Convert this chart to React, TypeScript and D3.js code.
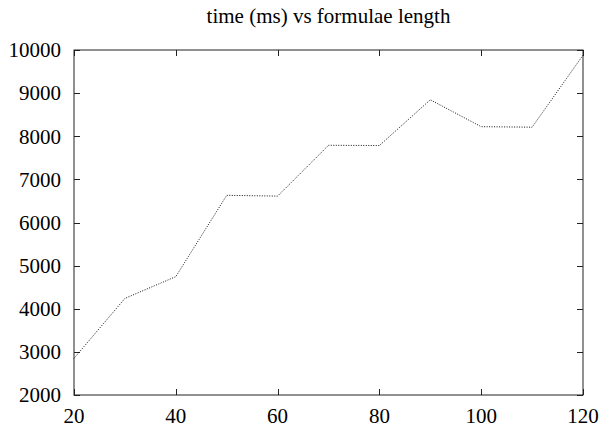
import React, { useEffect, useRef } from 'react';
import * as d3 from 'd3';

// formulae length vs time (ms)
const lengths = [20, 30, 40, 50, 60, 70, 80, 90, 100, 110, 120];
const timesMs = [2850, 4240, 4745, 6630, 6612, 7790, 7785, 8845, 8222, 8210, 9880];
const xTicks = [20, 40, 60, 80, 100, 120];
const yTicks = [2000, 3000, 4000, 5000, 6000, 7000, 8000, 9000, 10000];
const title = 'time (ms) vs formulae length';

const W = 602;
const H = 432;

const App = () => {
  const svgRef = useRef<SVGSVGElement>(null);

  useEffect(() => {
    const svg = d3.select(svgRef.current);
    svg.selectAll('*').remove();

    const margin = { top: 50, right: 19, bottom: 37, left: 74 };
    const x = d3.scaleLinear().domain([20, 120]).range([margin.left, W - margin.right]);
    const y = d3.scaleLinear().domain([2000, 10000]).range([H - margin.bottom, margin.top]);
    const font = '"Liberation Serif", "DejaVu Serif", serif';
    const tickLen = 6;
    const axisColor = '#222';

    // frame
    svg.append('rect')
      .attr('x', x(20))
      .attr('y', y(10000))
      .attr('width', x(120) - x(20))
      .attr('height', y(2000) - y(10000))
      .attr('fill', 'none')
      .attr('stroke', axisColor)
      .attr('stroke-width', 1);

    // y ticks, mirrored on the right
    yTicks.forEach(t => {
      const yy = Math.round(y(t)) + 0.5;
      svg.append('line')
        .attr('x1', x(20)).attr('x2', x(20) + tickLen)
        .attr('y1', yy).attr('y2', yy)
        .attr('stroke', axisColor);
      svg.append('line')
        .attr('x1', x(120)).attr('x2', x(120) - tickLen)
        .attr('y1', yy).attr('y2', yy)
        .attr('stroke', axisColor);
      svg.append('text')
        .attr('x', x(20) - 13)
        .attr('y', y(t))
        .attr('dy', '0.35em')
        .attr('text-anchor', 'end')
        .attr('font-family', font)
        .attr('font-size', 21)
        .attr('fill', '#000')
        .text(t);
    });

    // x ticks, mirrored on top
    xTicks.forEach(t => {
      const xx = Math.round(x(t)) + 0.5;
      svg.append('line')
        .attr('x1', xx).attr('x2', xx)
        .attr('y1', y(2000)).attr('y2', y(2000) - tickLen)
        .attr('stroke', axisColor);
      svg.append('line')
        .attr('x1', xx).attr('x2', xx)
        .attr('y1', y(10000)).attr('y2', y(10000) + tickLen)
        .attr('stroke', axisColor);
      svg.append('text')
        .attr('x', x(t))
        .attr('y', y(2000) + 28)
        .attr('text-anchor', 'middle')
        .attr('font-family', font)
        .attr('font-size', 21)
        .attr('fill', '#000')
        .text(t);
    });

    // title
    svg.append('text')
      .attr('x', (x(20) + x(120)) / 2)
      .attr('y', 23)
      .attr('text-anchor', 'middle')
      .attr('font-family', font)
      .attr('font-size', 21)
      .attr('fill', '#000')
      .text(title);

    // dotted series line
    const line = d3.line<number>()
      .x((d, i) => x(lengths[i]))
      .y(d => y(d));

    svg.append('path')
      .datum(timesMs)
      .attr('d', line)
      .attr('fill', 'none')
      .attr('stroke', '#111')
      .attr('stroke-width', 1)
      .attr('stroke-dasharray', '1,1.5');
  }, []);

  return (
    <div style={{ position: 'fixed', left: 0, top: 0, width: W, height: H, background: '#fff' }}>
      <svg ref={svgRef} width={W} height={H} style={{ display: 'block' }} />
    </div>
  );
};

export default App;
